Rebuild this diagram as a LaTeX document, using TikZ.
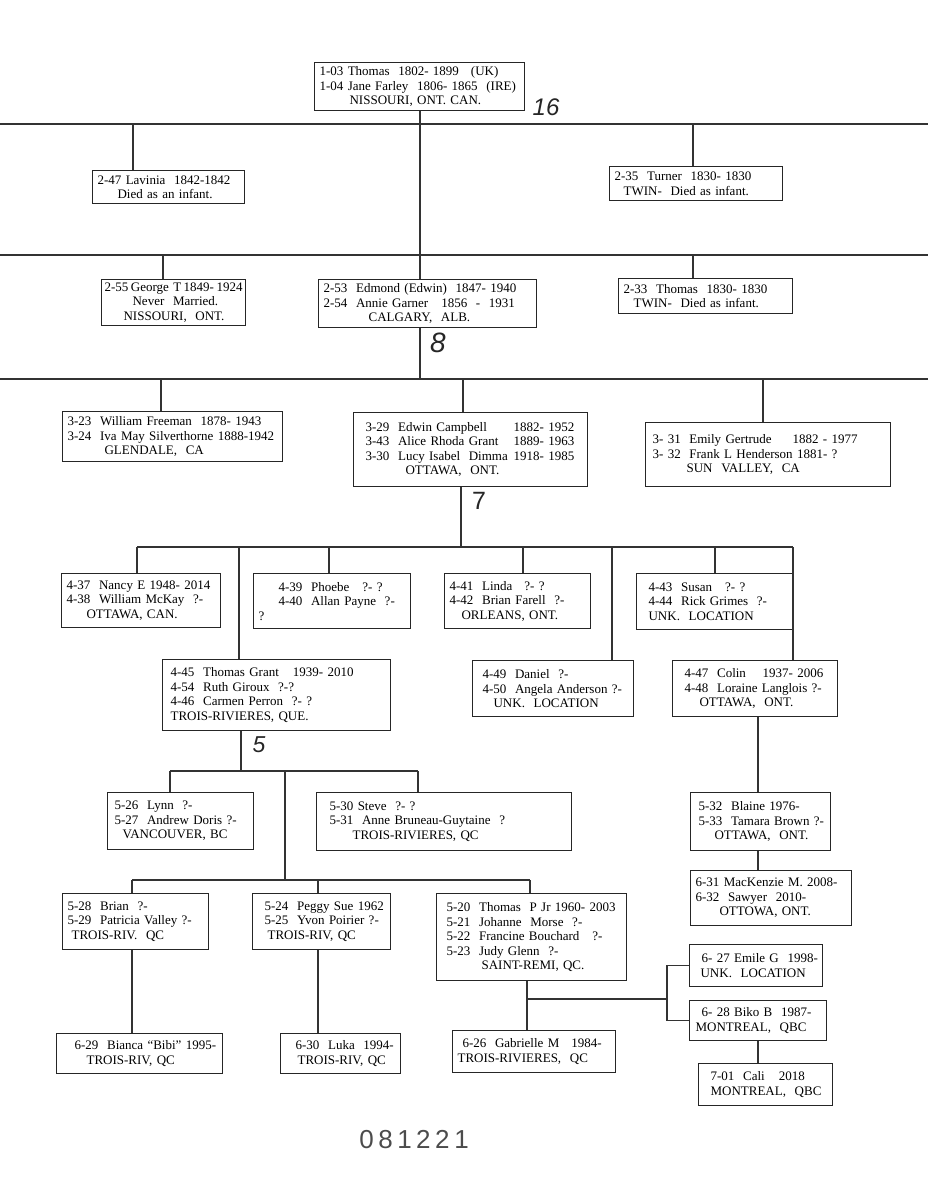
\documentclass[tikz,border=0pt]{standalone}
\usepackage{fontspec}
\setmainfont{Liberation Serif}
\setsansfont{Liberation Sans}
\newcommand{\xl}[1]{\mbox{#1}}
\newcommand{\tsp}{\hspace{2.5pt}}
\tikzset{
  pbox/.style={draw=black!85, line width=1.2pt, anchor=north west, inner xsep=5pt, inner ysep=1pt,
    align=left, font=\rmfamily\fontsize{13}{14.5}\selectfont, text=black},
  conn/.style={draw=black!80, line width=1.3pt},
  hand/.style={font=\sffamily\itshape, text=black!85},
  stamp/.style={font=\sffamily\fontsize{26}{26}\selectfont, text=black!70}
}
\newcommand{\pbx}[6]{\pgfmathsetmacro\tw{#4-10}\node[pbox, minimum width=#4pt, minimum height=#5pt, text width=\tw pt] (#1) at (#2,#3) {#6};}
\begin{document}
\begin{tikzpicture}[x=1pt,y=-1pt]
\useasboundingbox[fill=white] (0,0) rectangle (928,1200);
% generation 1
\pbx{top}{314}{62}{210}{48}{\xl{1-03 Thomas\ \ 1802- 1899\hspace{12pt}(UK)}\\\xl{1-04 Jane Farley\ \ 1806- 1865\ \ (IRE)}\\\xl{\hspace*{30pt}NISSOURI, ONT. CAN.}}
% generation 2
\pbx{b247}{92}{170}{152}{33}{\xl{2-47 Lavinia\ \ 1842-1842}\\\xl{\hspace*{20pt}Died as an infant.}}
\pbx{b235}{609}{166}{173}{34}{\xl{2-35\ \ Turner\ \ 1830- 1830}\\\xl{\hspace*{9pt}TWIN-\ \ Died as infant.}}
\pbx{b255}{101}{279}{144}{46}{\xl{\hspace*{-2pt}2-55\tsp George T\tsp 1849-\tsp 1924}\\\xl{\hspace*{26pt}Never\ \ Married.}\\\xl{\hspace*{17pt}NISSOURI,\ \ ONT.}}
\pbx{e53}{318}{279}{218}{48}{\xl{2-53\ \ Edmond (Edwin)\ \ 1847- 1940}\\\xl{2-54\ \ Annie Garner\ \ \ 1856\ \ -\ \ 1931}\\\xl{\hspace*{45pt}CALGARY,\ \ ALB.}}
\pbx{b233}{618}{278}{174}{35}{\xl{2-33\ \ Thomas\ \ 1830- 1830}\\\xl{\hspace*{10pt}TWIN-\ \ Died as infant.}}
% generation 3
\pbx{b323}{62}{411}{220}{50}{\xl{3-23\ \ William Freeman\ \ 1878- 1943}\\\xl{3-24\ \ Iva May Silverthorne 1888-1942}\\\xl{\hspace*{37pt}GLENDALE,\ \ CA}}
\pbx{b329}{353}{412}{234}{74}{\xl{\hspace*{7pt}\makebox[148pt][l]{3-29\ \ Edwin Campbell}1882-\ 1952}\\\xl{\hspace*{7pt}\makebox[148pt][l]{3-43\ \ Alice Rhoda Grant}1889- 1963}\\\xl{\hspace*{7pt}\makebox[148pt][l]{3-30\ \ Lucy Isabel\ \ Dimma}1918-\ 1985}\\\xl{\hspace*{47pt}OTTAWA,\ \ ONT.}}
\pbx{b331}{645}{422}{245}{64}{\xl{\hspace*{2pt}\makebox[140pt][l]{3- 31\ \ Emily Gertrude}1882 - 1977}\\\xl{\hspace*{2pt}3- 32\ \ Frank L Henderson 1881- ?}\\\xl{\hspace*{36pt}SUN\ \ VALLEY,\ \ CA}}
% generation 4
\pbx{b437}{61}{573}{159}{54}{\xl{4-37\ \ Nancy E 1948- 2014}\\\xl{4-38\ \ William McKay\ \ ?-}\\\xl{\hspace*{20pt}OTTAWA, CAN.}}
\pbx{b439}{253}{573}{157}{55}{\xl{\hspace*{20pt}4-39\ \ Phoebe\ \ \ ?- ?}\\\xl{\hspace*{20pt}4-40\ \ Allan Payne\ \ ?-}\\\xl{?}}
\pbx{b441}{444}{573}{146}{55}{\xl{4-41\ \ Linda\hspace{12pt}?-\ ?}\\\xl{4-42\ \ Brian Farell\ \ ?-}\\\xl{\hspace*{12pt}ORLEANS, ONT.}}
\pbx{b443}{636}{573}{157}{56}{\xl{\hspace*{7pt}4-43\ \ Susan\ \ \ ?-\ ?}\\\xl{\hspace*{7pt}4-44\ \ Rick Grimes\ \ ?-}\\\xl{\hspace*{7pt}UNK.\ \ LOCATION}}
\pbx{b445}{162}{659}{228}{71}{\xl{\hspace*{3pt}4-45\ \ Thomas Grant\hspace{14pt}1939- 2010}\\\xl{\hspace*{3pt}4-54\ \ Ruth Giroux\ \ ?-?}\\\xl{\hspace*{3pt}4-46\ \ Carmen Perron\ \ ?- ?}\\\xl{\hspace*{3pt}TROIS-RIVIERES, QUE.}}
\pbx{b449}{472}{660}{161}{56}{\xl{\hspace*{5pt}4-49\ \ Daniel\ \ ?-}\\\xl{\hspace*{5pt}4-50\ \ Angela Anderson ?-}\\\xl{\hspace*{16pt}UNK.\ \ LOCATION}}
\pbx{b447}{672}{660}{165}{56}{\xl{\hspace*{7pt}\makebox[78pt][l]{4-47\ \ Colin}1937- 2006}\\\xl{\hspace*{7pt}4-48\ \ Loraine Langlois ?-}\\\xl{\hspace*{22pt}OTTAWA,\ \ ONT.}}
% generation 5
\pbx{b526}{107}{792}{146}{57}{\xl{\hspace*{2pt}5-26\ \ Lynn\ \ ?-}\\\xl{\hspace*{2pt}5-27\ \ Andrew Doris ?-}\\\xl{\hspace*{10pt}VANCOUVER, BC}}
\pbx{b530}{316}{792}{255}{58}{\xl{\hspace*{8pt}5-30 Steve\ \ ?- ?}\\\xl{\hspace*{8pt}5-31\ \ Anne Bruneau-Guytaine\ \ ?}\\\xl{\hspace*{31pt}TROIS-RIVIERES, QC}}
\pbx{b532}{690}{792}{140}{58}{\xl{\hspace*{3pt}5-32\ \ Blaine\ 1976-}\\\xl{\hspace*{3pt}5-33\ \ Tamara Brown ?-}\\\xl{\hspace*{19pt}OTTAWA,\ \ ONT.}}
\pbx{b631}{690}{870}{161}{55}{\xl{6-31 MacKenzie M. 2008-}\\\xl{6-32\ \ Sawyer\ \ 2010-}\\\xl{\hspace*{24pt}OTTOWA, ONT.}}
\pbx{b528}{62}{893}{146}{56}{\xl{5-28\ \ Brian\ \ ?-}\\\xl{5-29\ \ Patricia Valley ?-}\\\xl{\hspace*{4pt}TROIS-RIV.\ \ QC}}
\pbx{b524}{252}{893}{138}{56}{\xl{\hspace*{7pt}5-24\ \ Peggy Sue\ 1962}\\\xl{\hspace*{7pt}5-25\ \ Yvon Poirier ?-}\\\xl{\hspace*{10pt}TROIS-RIV, QC}}
\pbx{b520}{436}{893}{190}{87}{\xl{\hspace*{5pt}5-20\ \ Thomas\ \ P Jr 1960- 2003}\\\xl{\hspace*{5pt}5-21\ \ Johanne\ \ Morse\ \ ?-}\\\xl{\hspace*{5pt}5-22\ \ Francine Bouchard\ \ \ ?-}\\\xl{\hspace*{5pt}5-23\ \ Judy Glenn\ \ ?-}\\\xl{\hspace*{40pt}SAINT-REMI, QC.}}
% generations 6 and 7
\pbx{b627}{689}{944}{133}{42}{\xl{\hspace*{7pt}6- 27\ Emile\ G\ \ 1998-}\\\xl{\hspace*{6pt}UNK.\ \ LOCATION}}
\pbx{b628}{689}{1000}{137}{40}{\xl{\hspace*{7pt}6- 28\ Biko\ B\ \ 1987-}\\\xl{\hspace*{1pt}MONTREAL,\ \ QBC}}
\pbx{b701}{698}{1063}{134}{42}{\xl{\hspace*{7pt}7-01\ \ Cali\hspace{14pt}2018}\\\xl{\hspace*{7pt}MONTREAL,\ \ QBC}}
\pbx{b629}{56}{1033}{166}{40}{\xl{\hspace*{13pt}6-29\ \ Bianca ``Bibi'' 1995-}\\\xl{\hspace*{25pt}TROIS-RIV, QC}}
\pbx{b630}{280}{1033}{120}{40}{\xl{\hspace*{10pt}6-30\ \ Luka\ \ 1994-}\\\xl{\hspace*{12pt}TROIS-RIV, QC}}
\pbx{b626}{452}{1030}{163}{42}{\xl{\hspace*{5pt}6-26\ \ Gabrielle M\hspace{12pt}1984-}\\\xl{TROIS-RIVIERES,\ \ QC}}
% handwritten counts and stamp
\node[hand, font=\sffamily\itshape\fontsize{24}{24}\selectfont] (n16) at (546,107) {16};
\node[hand, font=\sffamily\itshape\fontsize{28}{28}\selectfont] (n8) at (438,343) {8};
\node[hand, font=\sffamily\fontsize{25}{25}\selectfont] (n7) at (479,501) {7};
\node[hand, font=\sffamily\itshape\fontsize{23}{23}\selectfont] (n5) at (259,745) {5};
\node[stamp] (stamp) at (414,1140) {\makebox[19pt]{0}\makebox[19pt]{8}\makebox[19pt]{1}\makebox[19pt]{2}\makebox[19pt]{2}\makebox[19pt]{1}};
% long generation lines
\coordinate (l1a) at (0,124); \coordinate (l1b) at (928,124);
\coordinate (l2a) at (0,255); \coordinate (l2b) at (928,255);
\coordinate (l3a) at (0,379); \coordinate (l3b) at (928,379);
\draw[conn] (l1a) -- (l1b);
\draw[conn] (l2a) -- (l2b);
\draw[conn] (l3a) -- (l3b);
% gen 1 -> gen 2
\coordinate (j53) at (420,379);
\draw[conn] (j53 |- top.south) -- (j53 |- e53.north);
\coordinate (j247) at (133,124); \draw[conn] (j247) -- (j247 |- b247.north);
\coordinate (j235) at (693,124); \draw[conn] (j235) -- (j235 |- b235.north);
\coordinate (j255) at (163,255); \draw[conn] (j255) -- (j255 |- b255.north);
\coordinate (j233) at (693,255); \draw[conn] (j233) -- (j233 |- b233.north);
% gen 2 -> gen 3
\draw[conn] (j53 |- e53.south) -- (j53);
\coordinate (j323) at (161,379); \draw[conn] (j323) -- (j323 |- b323.north);
\coordinate (j329) at (463,379); \draw[conn] (j329) -- (j329 |- b329.north);
\coordinate (j331) at (763,379); \draw[conn] (j331) -- (j331 |- b331.north);
% gen 3 -> gen 4
\coordinate (g4) at (461,547); \draw[conn] (g4 |- b329.south) -- (g4);
\coordinate (bar4a) at (137,547); \coordinate (bar4b) at (793,547);
\draw[conn] (bar4a) -- (bar4b);
\draw[conn] (bar4a) -- (bar4a |- b437.north);
\coordinate (k445) at (239,547); \draw[conn] (k445) -- (k445 |- b445.north);
\coordinate (k439) at (329,547); \draw[conn] (k439) -- (k439 |- b439.north);
\coordinate (k441) at (523,547); \draw[conn] (k441) -- (k441 |- b441.north);
\coordinate (k449) at (612,547); \draw[conn] (k449) -- (k449 |- b449.north);
\coordinate (k443) at (715,547); \draw[conn] (k443) -- (k443 |- b443.north);
\draw[conn] (bar4b) -- (bar4b |- b447.north);
% gen 4 -> gen 5
\coordinate (g5) at (241,771); \draw[conn] (g5 |- b445.south) -- (g5);
\coordinate (bar5a) at (170,771); \coordinate (bar5b) at (418,771);
\draw[conn] (bar5a) -- (bar5b);
\draw[conn] (bar5a) -- (bar5a |- b526.north);
\draw[conn] (bar5b) -- (bar5b |- b530.north);
\coordinate (t5) at (285,771); \coordinate (bar6a) at (132,880); \coordinate (bar6b) at (530,880);
\draw[conn] (t5) -- (t5 |- bar6a);
\draw[conn] (bar6a) -- (bar6b);
\draw[conn] (bar6a) -- (bar6a |- b528.north);
\coordinate (k524) at (318,880); \draw[conn] (k524) -- (k524 |- b524.north);
\draw[conn] (bar6b) -- (bar6b |- b520.north);
\coordinate (c47) at (758,0);
\draw[conn] (c47 |- b447.south) -- (c47 |- b532.north);
\draw[conn] (c47 |- b532.south) -- (c47 |- b631.north);
% gen 5 -> gen 6 -> gen 7
\coordinate (c28) at (132,0); \draw[conn] (c28 |- b528.south) -- (c28 |- b629.north);
\coordinate (c24) at (318,0); \draw[conn] (c24 |- b524.south) -- (c24 |- b630.north);
\coordinate (c20) at (527,0); \draw[conn] (c20 |- b520.south) -- (c20 |- b626.north);
\coordinate (j6) at (527,999); \coordinate (k6) at (667,999);
\draw[conn] (j6) -- (k6);
\draw[conn] (b627.west) -| (k6);
\draw[conn] (b628.west) -| (k6);
\draw[conn] (b628.south) -- (b628.south |- b701.north);
\end{tikzpicture}
\end{document}
